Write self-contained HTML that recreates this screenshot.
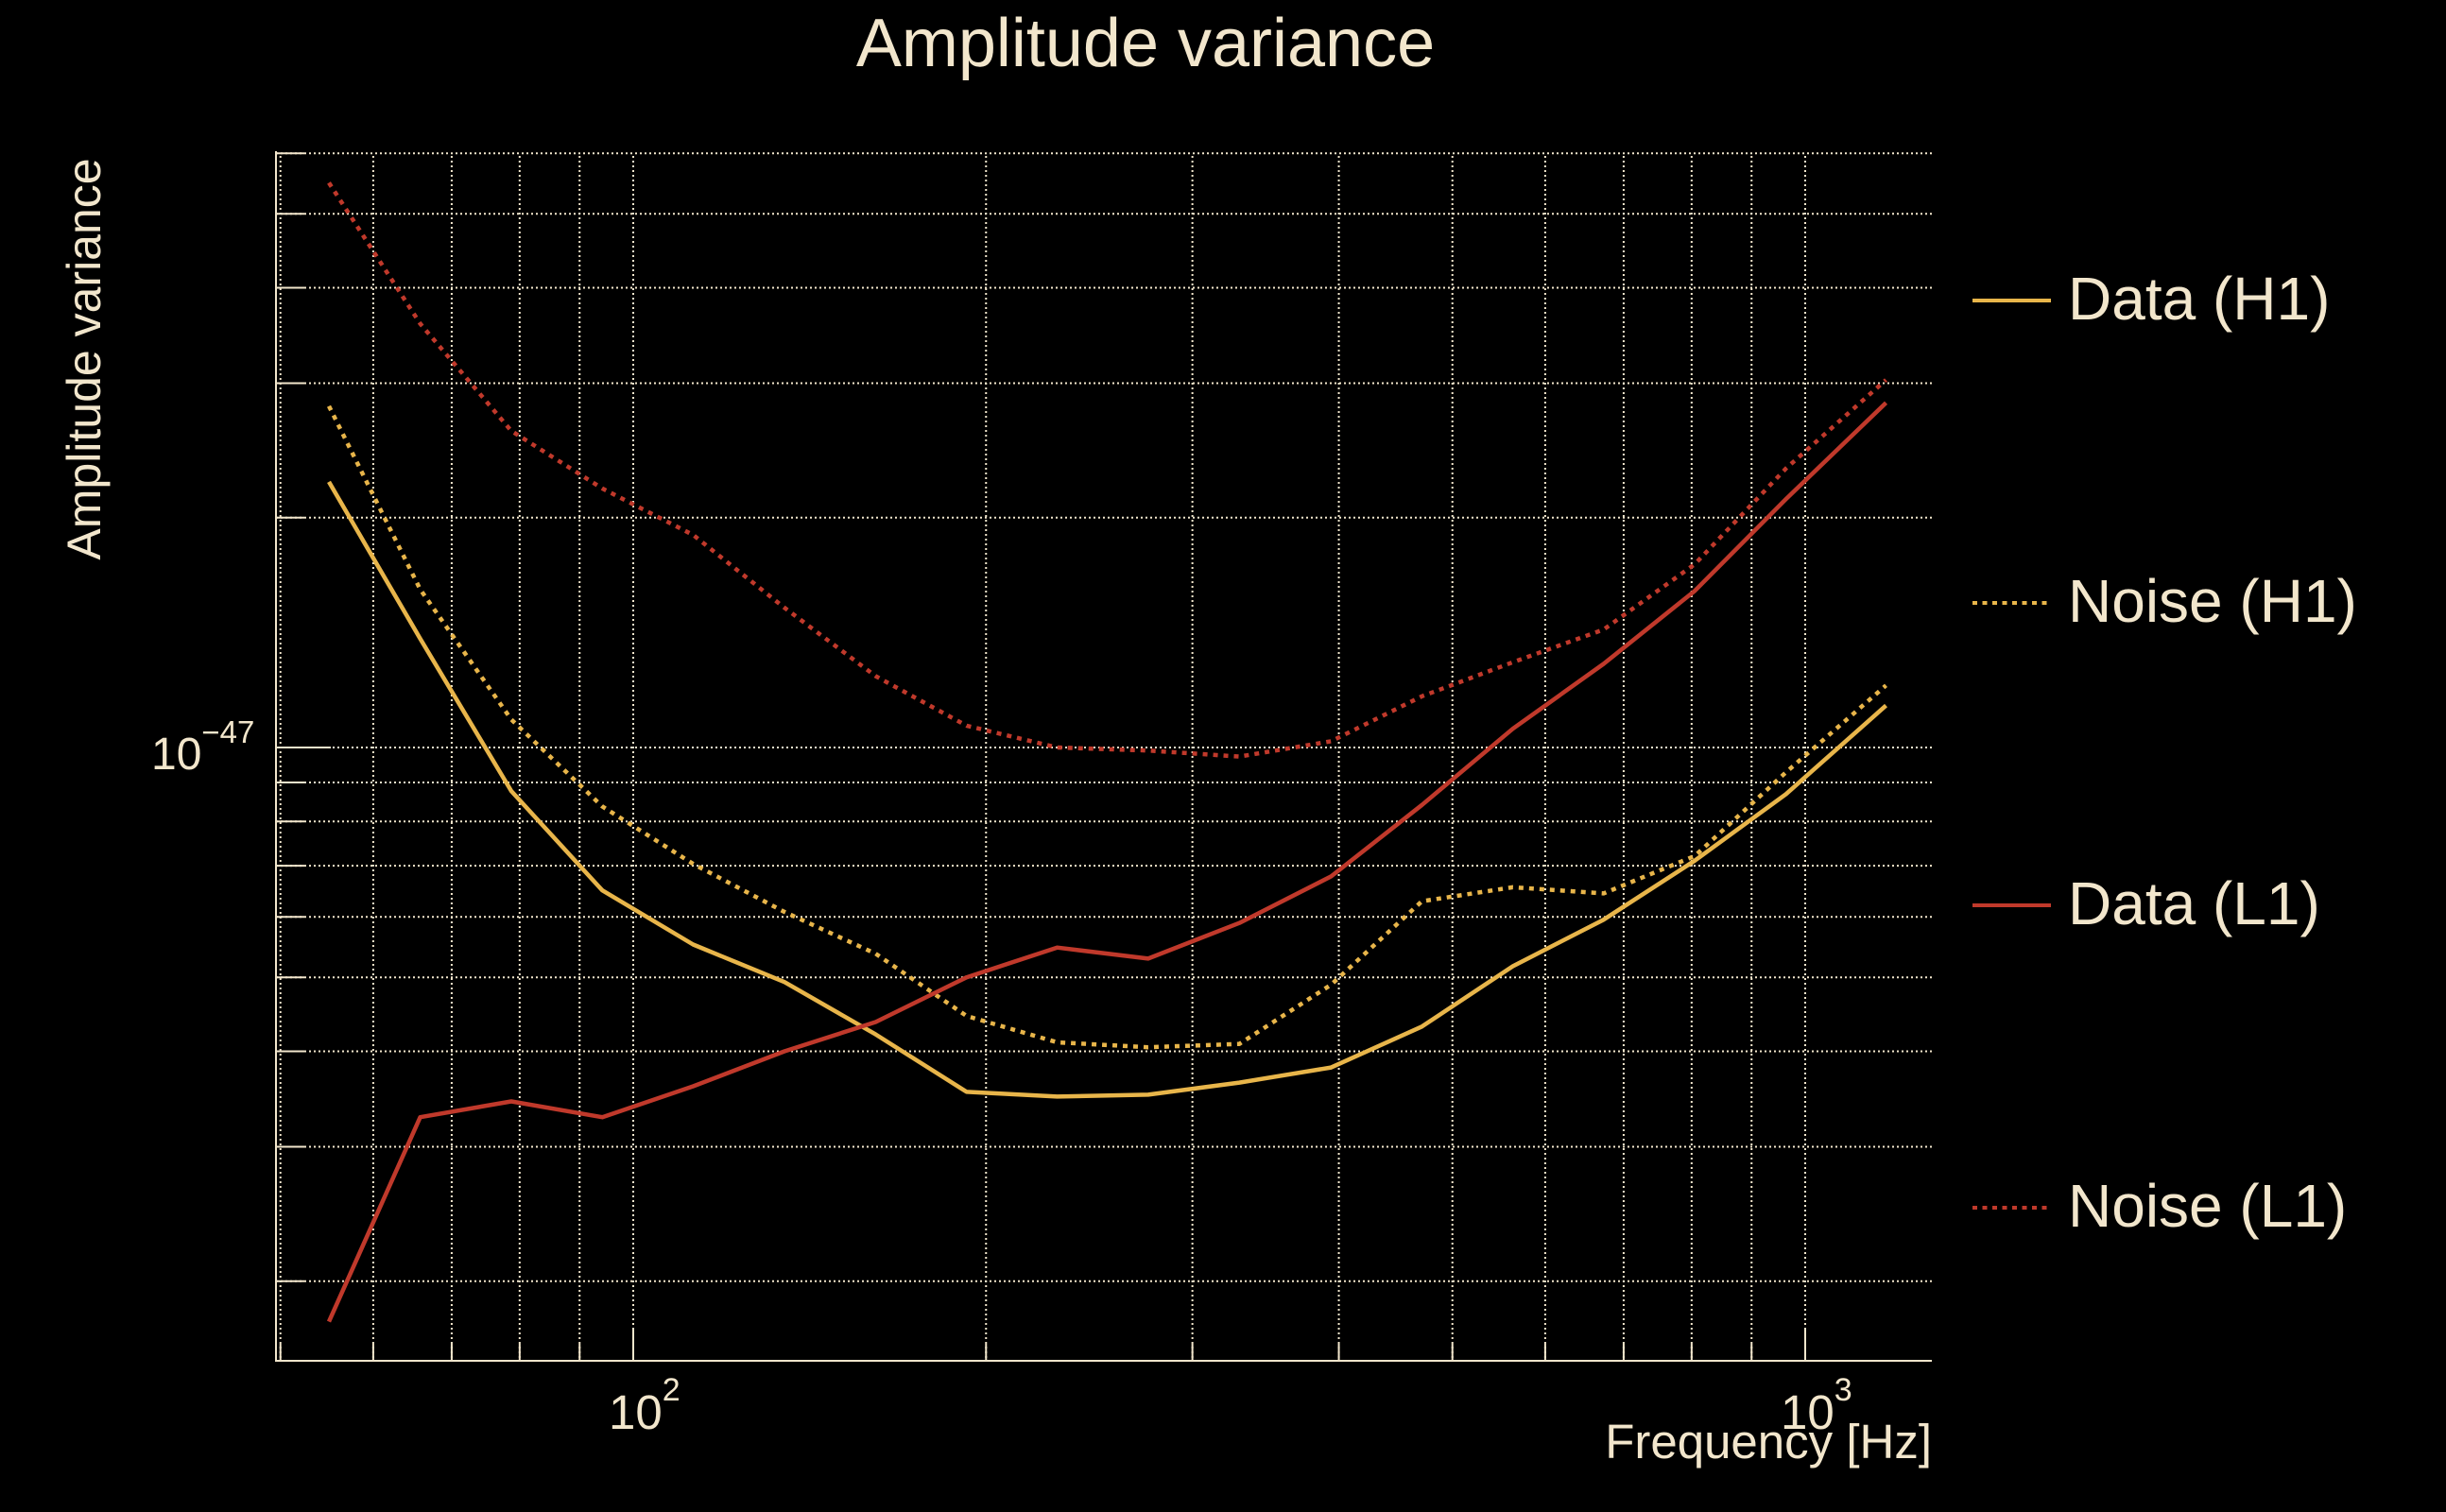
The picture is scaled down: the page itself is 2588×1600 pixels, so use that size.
<!DOCTYPE html>
<html><head><meta charset="utf-8"><style>
html,body{margin:0;padding:0;background:#000;}
svg{display:block;font-family:"Liberation Sans",sans-serif;}
</style></head><body>
<svg id="chart" width="2588" height="1600" viewBox="0 0 2588 1600" xmlns="http://www.w3.org/2000/svg">
<rect width="2588" height="1600" fill="#000"/>
<text x="1212" y="70" font-size="72" fill="#f2e6cc" text-anchor="middle">Amplitude variance</text>
<text transform="translate(106,380) rotate(-90)" font-size="50" fill="#f2e6cc" text-anchor="middle">Amplitude variance</text>
<text x="2044" y="1543" font-size="51" fill="#f2e6cc" text-anchor="end">Frequency [Hz]</text>
<g id="grid"></g>
<g id="axes"></g>
<g id="series"></g>
<g id="legend"></g>
</svg>
<script>
const freqs = [55, 65.8, 78.7, 94.1, 112.5, 134.6, 161, 192.5, 230, 275, 329, 394, 471, 563, 673, 805, 963, 1172];
// values in units of 1e-47
const dataH1 = [2.228, 1.388, 0.877, 0.650, 0.552, 0.493, 0.421, 0.354, 0.349, 0.351, 0.364, 0.381, 0.431, 0.517, 0.595, 0.711, 0.869, 1.135];
const noiseH1 = [2.80, 1.611, 1.088, 0.837, 0.704, 0.609, 0.537, 0.445, 0.411, 0.405, 0.409, 0.489, 0.629, 0.656, 0.644, 0.721, 0.928, 1.206];
const dataL1 = [0.177, 0.328, 0.344, 0.328, 0.360, 0.400, 0.437, 0.500, 0.547, 0.529, 0.589, 0.678, 0.841, 1.058, 1.287, 1.604, 2.115, 2.828];
const noiseL1 = [5.49, 3.59, 2.598, 2.184, 1.898, 1.524, 1.240, 1.068, 1.0, 0.991, 0.973, 1.019, 1.167, 1.293, 1.427, 1.738, 2.32, 3.03];
const xGrid = [50,60,70,80,90,100,200,300,400,500,600,700,800,900,1000];
const yGrid = [0.2,0.3,0.4,0.5,0.6,0.7,0.8,0.9,1,2,3,4,5,6];
const xMajor = [100, 1000];
const xMajorLabels = ["2","3"];
const yMajor = [1];
const yMajorLabels = ["\u221247"];
const legendLabels = ["Data (H1)","Noise (H1)","Data (L1)","Noise (L1)"];

const NS="http://www.w3.org/2000/svg";
const X0=292, X1=2044, Y0=165, Y1=1440;
const C="#f2e6cc", YEL="#e8b54a", RED="#c0392b";
function xs(f){return 670+1240*Math.log10(f/100);}
function ys(v){return 791-808*Math.log10(v);}
function mk(tag,attrs,parent){const e=document.createElementNS(NS,tag);for(const k in attrs)e.setAttribute(k,attrs[k]);parent.appendChild(e);return e;}
const grid=document.getElementById('grid'),axes=document.getElementById('axes'),series=document.getElementById('series'),legend=document.getElementById('legend');

xGrid.forEach(f=>{const x=xs(f);
 const l=mk('line',{x1:x,x2:x,y1:Y0,y2:Y1,stroke:C,'stroke-width':2,'stroke-dasharray':'2 3'},grid);
 
 
 const major=xMajor.indexOf(f)>=0;
 const t=mk('line',{x1:x,x2:x,y1:Y1,y2:Y1-(major?35:18),stroke:C,'stroke-width':2},axes);
 
 
});
yGrid.forEach(v=>{const y=ys(v);
 const l=mk('line',{x1:X0,x2:X1,y1:y,y2:y,stroke:C,'stroke-width':2,'stroke-dasharray':'2 3'},grid);
 
 
 const major=yMajor.indexOf(v)>=0;
 const t=mk('line',{x1:X0,x2:X0+(major?58:30),y1:y,y2:y,stroke:C,'stroke-width':2},axes);
 
 
});
const ax=mk('path',{d:`M${X0},${Y0-5}V${Y1}H${X1}`,fill:'none',stroke:C,'stroke-width':2},axes);



xMajor.forEach((f,i)=>{
 const t=mk('text',{x:xs(f)-26,y:1512,'font-size':51,fill:C},axes);
 
 
 t.textContent='10';
 const s=mk('tspan',{dy:-30,'font-size':34},t);s.textContent=xMajorLabels[i];
});
yMajor.forEach((v,i)=>{
 const t=mk('text',{x:160,y:ys(v)+23,'font-size':48,fill:C},axes);
 
 
 t.textContent='10';
 const s=mk('tspan',{dy:-28,'font-size':33},t);s.textContent=yMajorLabels[i];
});

const defs=[[dataH1,YEL,null,'data-h1-line'],[noiseH1,YEL,'5 6','noise-h1-line'],[dataL1,RED,null,'data-l1-line'],[noiseL1,RED,'5 6','noise-l1-line']];
defs.forEach(([vals,col,dash,name])=>{
 const d=vals.map((v,i)=>(i?'L':'M')+xs(freqs[i]).toFixed(1)+','+ys(v).toFixed(1)).join('');
 const p=mk('path',{d:d,fill:'none',stroke:col,'stroke-width':4.5,'stroke-linejoin':'round'},series);
 if(dash)p.setAttribute('stroke-dasharray',dash);
 
 
});

legendLabels.forEach((lab,i)=>{
 const y=318+320*i; const [,col,dash]=defs[i];
 const g=mk('g',{},legend);
 
 
 const l=mk('line',{x1:2087,x2:2170,y1:y,y2:y,stroke:col,'stroke-width':4},g);
 if(dash)l.setAttribute('stroke-dasharray','5 5.5');
 const t=mk('text',{x:2188,y:y+20,'font-size':64,fill:C},g);
 t.textContent=lab;
});
</script>
</body></html>
